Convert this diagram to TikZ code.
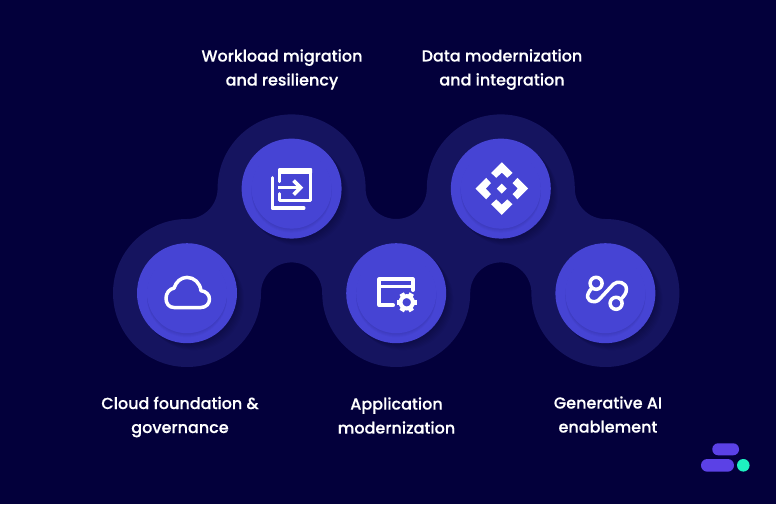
\documentclass[tikz,border=0pt]{standalone}
\usepackage{fontspec}
\setmainfont{Poppins Medium}[FakeBold=.25]
\definecolor{nightbg}{HTML}{03003B}
\definecolor{halocol}{HTML}{15145F}
\definecolor{discol}{HTML}{4644D4}
\definecolor{pillcol}{HTML}{5B41E6}
\definecolor{dotcol}{HTML}{1EF0C0}
\tikzset{
  disc/.style={circle,fill=discol,inner sep=0,minimum size=#1},
  capt/.style={text=white,align=center,font=\fontsize{16}{24}\selectfont,inner sep=0},
  icon/.style={draw=white,line width=3.5,line join=round,line cap=round},
  softdark/.style={fill=black,opacity=.03},
  softcres/.style={fill=black,opacity=.025}
}
\begin{document}
\begin{tikzpicture}[x=1pt,y=1pt]
   \fill[nightbg] (0,0) rectangle (776,504);
   % halo outline
   \fill[halocol] (187,285) arc[start angle=270,end angle=360,radius=30.6]
      arc[start angle=180,end angle=0,radius=74]
      arc[start angle=180,end angle=360,radius=30.6]
      arc[start angle=180,end angle=0,radius=74]
      arc[start angle=180,end angle=270,radius=30.6]
      arc[start angle=90,end angle=-180,radius=74]
      arc[start angle=0,end angle=180,radius=30.6]
      arc[start angle=360,end angle=180,radius=74]
      arc[start angle=0,end angle=180,radius=30.6]
      arc[start angle=0,end angle=-270,radius=74] -- cycle;
   \foreach \n/\x/\y in {cloud/187/210.8, migrate/291.6/315.4, app/396.2/210.8, data/500.8/315.4, genai/605.4/210.8} {
      \foreach \s in {1,...,7}
         \fill[softdark] (\x+\s,\y-\s) circle (50);
      \node[disc=100pt] (\n) at (\x,\y) {};
      \foreach \s in {1,...,4}
         \fill[softcres] (\x,\y-\s) circle (40);
      \node[disc=80pt] (\n-in) at (\x,\y) {};
   }
   % icons
   \begin{scope}[shift={(cloud)}]
      \draw[icon] (-13,-14.3) -- (14,-14.3) .. controls (19,-14.3) and (22.5,-10.5) .. (22.5,-6)
         .. controls (22.5,-1.5) and (19,2) .. (14,2.5) .. controls (13,10.5) and (7,15.8) .. (0,15.8)
         .. controls (-6,15.8) and (-11,11.5) .. (-13,5) .. controls (-17.5,4.5) and (-21,0) .. (-21,-5)
         .. controls (-21,-10.5) and (-18,-14.3) .. (-13,-14.3) -- cycle;
   \end{scope}
   \begin{scope}[shift={(migrate)}]
      \draw[icon,line width=3.2] (-19.5,11) -- (-19.5,-19.5) -- (12.3,-19.5);
      \draw[icon,line width=3.2] (-12,7) -- (-12,19) -- (19.2,19) -- (19.2,-12.2) -- (-12,-12.2) -- (-12,-5);
      \fill[white,rounded corners=1] (-13.4,20.4) rectangle (20.6,14.8);
      \draw[icon,line width=3.4,line cap=butt,line join=miter] (-13.4,1) -- (7,1);
      \draw[icon,line width=3.8,line cap=butt,line join=miter] (2,8) -- (9,1) -- (2,-6);
   \end{scope}
   \begin{scope}[shift={(app)}]
      \draw[icon] (-3,-12) -- (-17,-12) -- (-17,14) -- (16.7,14) -- (16.7,3);
      \draw[icon] (-17,6.5) -- (16.7,6.5);
      \draw[white,line width=4] (10.5,-9.1) circle (6.2);
      \foreach \a in {0,60,...,300}
         \draw[white,line width=5] (10.5,-9.1) ++(\a:6.5) -- ++(\a:3.6);
   \end{scope}
   \begin{scope}[shift={(data)},xshift=1]
      \foreach \a in {0,90,180,270}
         \fill[white,rotate=\a] (0,26.3) -- (10.7,15.6) -- (5.5,10.8) -- (0,16) -- (-5.5,10.8) -- (-10.7,15.6) -- cycle;
      \fill[white] (0,5) -- (5,0) -- (0,-5) -- (-5,0) -- cycle;
   \end{scope}
   \begin{scope}[shift={(genai)}]
      \draw[icon] (-9.3,9.9) circle (6);
      \draw[icon] (10.7,-10.1) circle (6);
      \draw[icon] (-13.5,5) .. controls (-19.5,-1) and (-20,-8.5) .. (-10.5,-8.5)
         .. controls (-8,-8.5) and (-7,-7) .. (-5,-5) -- (8,9)
         .. controls (12,13) and (21,11) .. (21,4) .. controls (21,0) and (19,-2) .. (16.5,-5);
   \end{scope}
   % captions
   \node[capt] (capmigrate) at (282,434.5) {Workload migration\\and resiliency};
   \node[capt] (capdata) at (502,434.5) {Data modernization\\and integration};
   \node[capt] (capcloud) at (180,87) {Cloud foundation \&\\governance};
   \node[capt] (capapp) at (396.5,88.5) {Application\\modernization};
   \node[capt] (capgenai) at (608,89.5) {Generative AI\\enablement};
   % logo
   \fill[pillcol,rounded corners=5.8] (712.3,48.7) rectangle (739,60.7);
   \fill[pillcol,rounded corners=6.3] (701,32.3) rectangle (734,45);
   \fill[dotcol] (743.3,38.7) circle (6.3);
\end{tikzpicture}
\end{document}
